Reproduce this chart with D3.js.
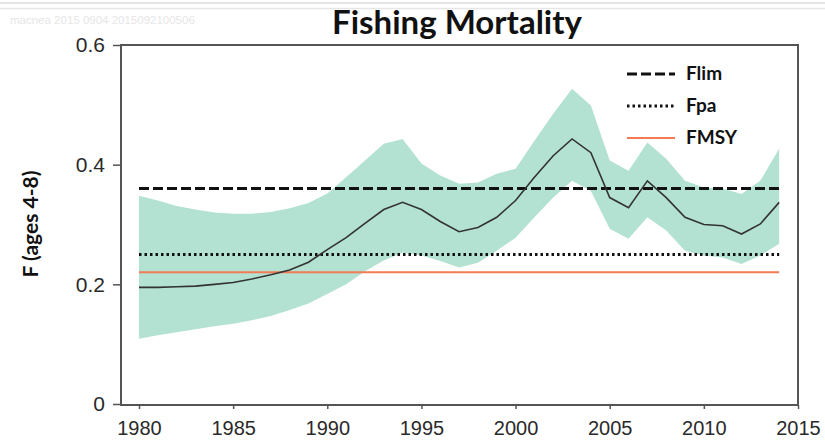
<!DOCTYPE html>
<html lang="en">

<head>
  <meta charset="UTF-8" />
  <title>Fishing Mortality</title>
  <script src="https://d3js.org/d3.v7.min.js"></script>
  <style>
    body { margin: 0; background: #fff; }
    .tick text { font-family: "Liberation Sans", Arial, sans-serif; fill: #2a2a2a; }
    .bold { font-family: Lato, "Open Sans", sans-serif; font-weight: 700; fill: #111; }
  </style>
</head>

<body>
  <svg width="825" height="446"></svg>

  <script>
    // data
    const years = d3.range(1980, 2015);
    const fMean = [0.195, 0.195, 0.196, 0.197, 0.200, 0.203, 0.209, 0.216, 0.224, 0.237,
      0.258, 0.278, 0.302, 0.325, 0.337, 0.325, 0.305, 0.288, 0.295, 0.312,
      0.340, 0.379, 0.415, 0.443, 0.420, 0.345, 0.328, 0.373, 0.345, 0.312,
      0.300, 0.298, 0.284, 0.301, 0.337];
    const fHigh = [0.348, 0.340, 0.331, 0.325, 0.320, 0.318, 0.318, 0.321, 0.327, 0.336,
      0.352, 0.379, 0.407, 0.435, 0.443, 0.402, 0.382, 0.368, 0.370, 0.385,
      0.393, 0.440, 0.485, 0.527, 0.499, 0.407, 0.390, 0.437, 0.410, 0.373,
      0.362, 0.360, 0.351, 0.373, 0.427];
    const fLow = [0.109, 0.115, 0.120, 0.125, 0.130, 0.134, 0.140, 0.147, 0.157, 0.168,
      0.184, 0.200, 0.222, 0.240, 0.253, 0.248, 0.239, 0.228, 0.236, 0.256,
      0.278, 0.312, 0.345, 0.373, 0.356, 0.293, 0.276, 0.312, 0.290, 0.256,
      0.248, 0.245, 0.234, 0.248, 0.268];
    const refPoints = [
      { name: "Flim", value: 0.36, dash: "10,4", color: "#111", width: 3 },
      { name: "Fpa", value: 0.25, dash: "2.5,3", color: "#111", width: 3 },
      { name: "FMSY", value: 0.22, dash: null, color: "#f47a55", width: 2 }
    ];
    const xTicks = [1980, 1985, 1990, 1995, 2000, 2005, 2010, 2015];
    const yTicks = [0, 0.2, 0.4, 0.6];

    const svg = d3.select("svg");
    const box = { left: 121, right: 798, top: 45, bottom: 405 };

    const x = d3.scaleLinear().domain([1980, 2015]).range([139, 798]);
    const y = d3.scaleLinear().domain([0, 0.6]).range([404, 45]);

    // faint header lines and stamp
    svg.append("line").attr("x1", 0).attr("x2", 825).attr("y1", 3).attr("y2", 3)
      .attr("stroke", "#ddd").attr("stroke-width", 1.5);
    svg.append("line").attr("x1", 0).attr("x2", 825).attr("y1", 8.5).attr("y2", 8.5)
      .attr("stroke", "#e6e6e6").attr("stroke-width", 1.5);
    svg.append("text").attr("x", 10).attr("y", 24)
      .attr("font-family", "Liberation Sans, Arial, sans-serif").attr("font-size", 11.5)
      .attr("fill", "#e6e6e6").text("macnea 2015 0904 2015092100506");

    // confidence band
    const band = years.map((yr, i) => ({ yr, lo: fLow[i], hi: fHigh[i] }));
    svg.append("path")
      .datum(band)
      .attr("fill", "#b3e1d2")
      .attr("d", d3.area().x(d => x(d.yr)).y0(d => y(d.lo)).y1(d => y(d.hi)));

    // reference lines
    svg.selectAll(".ref")
      .data(refPoints)
      .enter()
      .append("line")
      .attr("class", "ref")
      .attr("x1", x(1980)).attr("x2", x(2014))
      .attr("y1", d => y(d.value)).attr("y2", d => y(d.value))
      .attr("stroke", d => d.color)
      .attr("stroke-width", d => d.width)
      .attr("stroke-dasharray", d => d.dash);

    // estimate line
    svg.append("path")
      .datum(years.map((yr, i) => [yr, fMean[i]]))
      .attr("fill", "none")
      .attr("stroke", "#333")
      .attr("stroke-width", 1.6)
      .attr("d", d3.line().x(d => x(d[0])).y(d => y(d[1])));

    // frame
    svg.append("rect")
      .attr("x", box.left).attr("y", box.top)
      .attr("width", box.right - box.left).attr("height", box.bottom - box.top)
      .attr("fill", "none").attr("stroke", "#555").attr("stroke-width", 2);

    // axes
    const yAxis = svg.append("g")
      .attr("transform", `translate(${box.left},0)`)
      .call(d3.axisLeft(y).tickValues(yTicks).tickSize(8).tickPadding(8)
        .tickFormat(d => d === 0 ? "0" : d3.format(".1f")(d)));
    yAxis.select(".domain").remove();
    yAxis.selectAll(".tick line").attr("stroke", "#555").attr("stroke-width", 1.5);
    yAxis.selectAll(".tick text").attr("font-size", 21);

    const xAxis = svg.append("g")
      .attr("transform", `translate(0,${box.bottom})`)
      .call(d3.axisBottom(x).tickValues(xTicks).tickSize(4).tickPadding(12)
        .tickFormat(d3.format("d")));
    xAxis.select(".domain").remove();
    xAxis.selectAll(".tick line").attr("stroke", "#555").attr("stroke-width", 1.5);
    xAxis.selectAll(".tick text").attr("font-size", 20);

    // title and y label
    svg.append("text").attr("class", "bold")
      .attr("x", 457).attr("y", 34)
      .attr("text-anchor", "middle").attr("font-size", 33)
      .text("Fishing Mortality");

    svg.append("text").attr("class", "bold")
      .attr("transform", "translate(38,224) rotate(-90)")
      .attr("text-anchor", "middle").attr("font-size", 21)
      .text("F (ages 4-8)");

    // legend
    const legend = svg.selectAll(".legend")
      .data(refPoints)
      .enter()
      .append("g")
      .attr("class", "legend")
      .attr("transform", (d, i) => `translate(627,${74 + i * 32})`);
    legend.append("line")
      .attr("x1", 0).attr("x2", 48)
      .attr("stroke", d => d.color)
      .attr("stroke-width", d => d.width)
      .attr("stroke-dasharray", d => d.dash);
    legend.append("text").attr("class", "bold")
      .attr("x", 59).attr("y", 6)
      .attr("font-size", 19)
      .text(d => d.name);
  </script>
</body>

</html>
